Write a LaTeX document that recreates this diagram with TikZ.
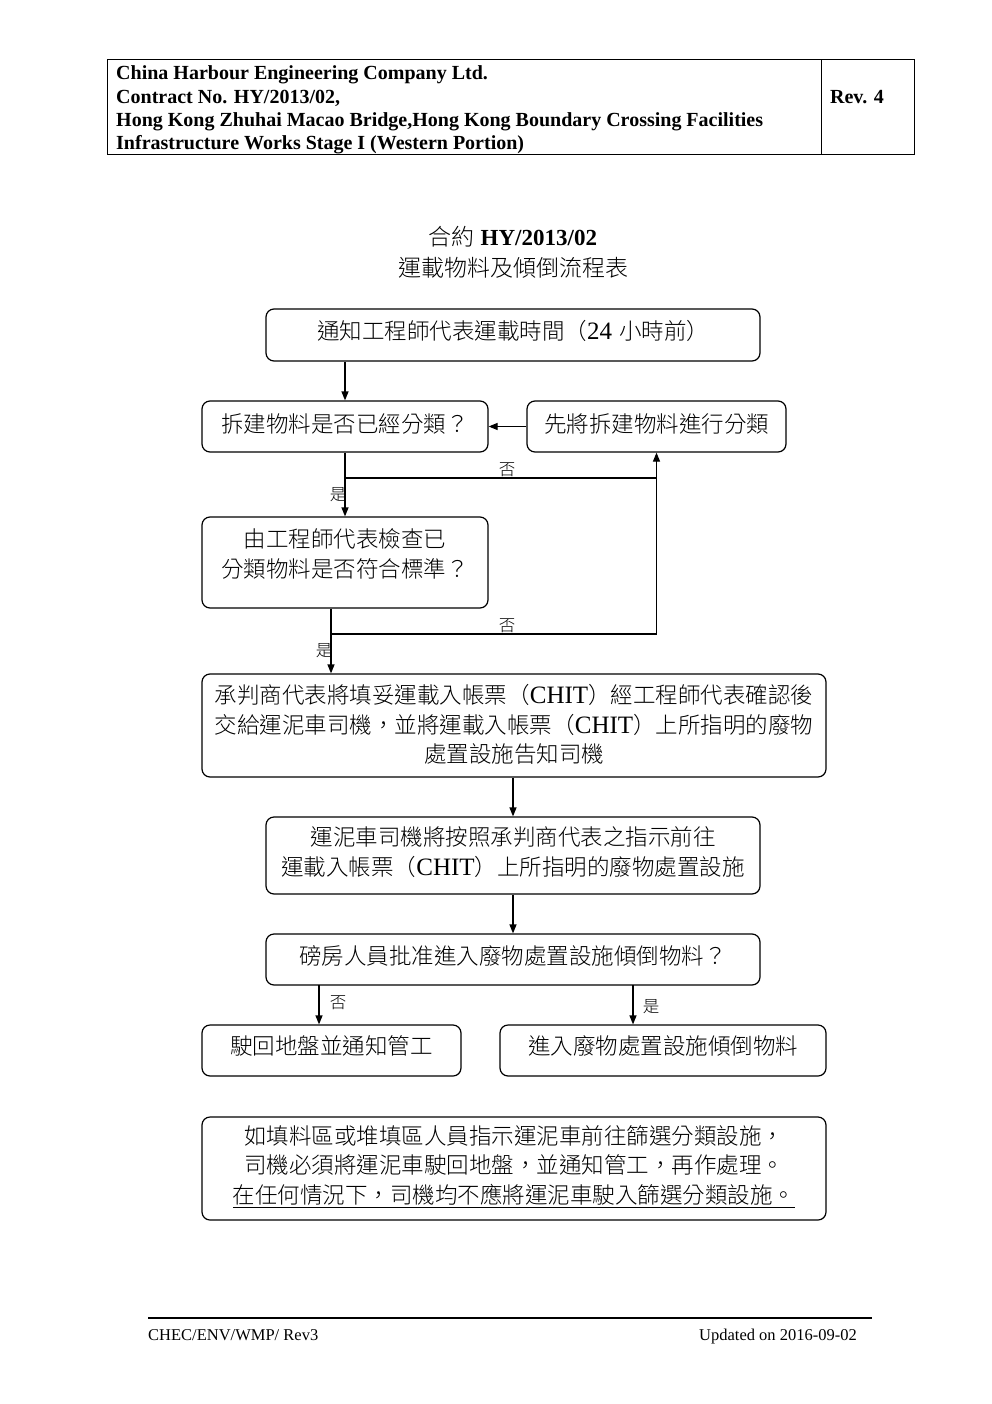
\documentclass[tikz,border=0pt]{standalone}
\usepackage{fontspec}
\setmainfont{Liberation Serif}
\newfontfamily\cjk{Noto Sans CJK TC}[UprightFont={* Light}]
\usetikzlibrary{arrows.meta}
\newcommand\lt[1]{{\rmfamily\fontsize{25}{29.5}\selectfont #1}}
\newcommand\ulthick[1]{\setbox0\hbox{#1}\leavevmode\rlap{\raisebox{-5pt}{\rule{\wd0}{1.4pt}}}\box0}
\begin{document}
\begin{tikzpicture}[x=1pt,y=-1pt,
  boxshape/.style={draw, line width=1.2pt, rounded corners=8pt, inner sep=0pt},
  txt/.style={inner sep=0pt, align=center, font=\cjk\fontsize{22.5}{29.5}\selectfont},
  lbl/.style={inner sep=0pt, font=\cjk\fontsize{16.5}{16.5}\selectfont},
  arr/.style={-{Triangle[length=9pt,width=7pt]}, line width=1.2pt},
  ln/.style={line width=1.2pt},
  hdr/.style={inner sep=0pt, anchor=base west, font=\bfseries\fontsize{20}{23}\selectfont}]
\useasboundingbox (0,0) rectangle (992,1404);
\fill[white] (0,0) rectangle (992,1404);
% header table
\draw[line width=1pt] (107,60) rectangle (914,155);
\draw[line width=1pt] (821,60) -- (821,155);
\node[hdr] (h1) at (116,80) {China Harbour Engineering Company Ltd.};
\node[hdr] (h2) at (116,103.5) {Contract No. HY/2013/02,};
\node[hdr] (h3) at (116,127) {Hong Kong Zhuhai Macao Bridge,Hong Kong Boundary Crossing Facilities};
\node[hdr] (h4) at (116,150) {Infrastructure Works Stage I (Western Portion)};
\node[hdr, anchor=base] (rev) at (857,104) {Rev. 4};
% title
\node[inner sep=0pt, font=\fontsize{23}{23}\selectfont] (t1) at (513,237) {{\cjk 合約} \textbf{HY/2013/02}};
\node[txt, font=\cjk\fontsize{23}{23}\selectfont] (t2) at (513,268) {運載物料及傾倒流程表};
% boxes
\node[boxshape, minimum width=494pt, minimum height=52pt] (n1) at (513,335) {};
\node[txt] (x1) at (513,331) {通知工程師代表運載時間（\lt{24}\hspace{7pt}小時前）};
\node[boxshape, minimum width=286pt, minimum height=51pt] (n2) at (345,426.5) {};
\node[txt] (x2) at (345,423.5) {拆建物料是否已經分類？};
\node[boxshape, minimum width=259pt, minimum height=51pt] (n3) at (656.5,426.5) {};
\node[txt] (x3) at (656.5,423.5) {先將拆建物料進行分類};
\node[boxshape, minimum width=286pt, minimum height=91pt] (n4) at (345,562.5) {};
\node[txt] (x4) at (345,554) {由工程師代表檢查已\\分類物料是否符合標準？};
\node[boxshape, minimum width=624pt, minimum height=103pt] (n5) at (514,725.5) {};
\node[txt] (x5) at (514,724.5) {承判商代表將填妥運載入帳票（\lt{CHIT}）經工程師代表確認後\\交給運泥車司機，並將運載入帳票（\lt{CHIT}）上所指明的廢物\\處置設施告知司機};
\node[boxshape, minimum width=494pt, minimum height=77pt] (n6) at (513,855.5) {};
\node[txt] (x6) at (513,852) {運泥車司機將按照承判商代表之指示前往\\運載入帳票（\lt{CHIT}）上所指明的廢物處置設施};
\node[boxshape, minimum width=494pt, minimum height=51pt] (n7) at (513,959.5) {};
\node[txt] (x7) at (513,955.5) {磅房人員批准進入廢物處置設施傾倒物料？};
\node[boxshape, minimum width=259pt, minimum height=51pt] (n8) at (331.5,1050.5) {};
\node[txt] (x8) at (331.5,1046) {駛回地盤並通知管工};
\node[boxshape, minimum width=326pt, minimum height=51pt] (n9) at (663,1050.5) {};
\node[txt] (x9) at (663,1046) {進入廢物處置設施傾倒物料};
\node[boxshape, minimum width=624pt, minimum height=103pt] (n10) at (514,1168.5) {};
\node[txt] (x10) at (514,1167) {如填料區或堆填區人員指示運泥車前往篩選分類設施，\\司機必須將運泥車駛回地盤，並通知管工，再作處理。\\\ulthick{在任何情況下，司機均不應將運泥車駛入篩選分類設施。}};
% connectors
\coordinate (j1) at (345,478);
\coordinate (j1r) at (656.5,478);
\coordinate (j2) at (331,634);
\coordinate (j2r) at (656.5,634);
\draw[arr] (n2.north |- n1.south) -- (n2.north);
\draw[arr] (n3.west) -- (n2.east);
\draw[arr] (n2.south) -- (n4.north);
\draw[ln] (j1) -- (j1r);
\draw[ln] (j2) -- (j2r);
\draw[arr] (j2r) -- (n3.south);
\draw[arr] (n4.south -| j2) -- (n5.north -| j2);
\draw[arr] (n6.north |- n5.south) -- (n6.north);
\draw[arr] (n6.south) -- (n7.north);
\coordinate (a1) at (319,985);
\coordinate (a2) at (633,985);
\draw[arr] (a1) -- (a1 |- n8.north);
\draw[arr] (a2) -- (a2 |- n9.north);
% labels
\node[lbl] (l1) at (507,470) {否};
\node[lbl] (l2) at (338,495) {是};
\node[lbl] (l3) at (507,626) {否};
\node[lbl] (l4) at (324,651) {是};
\node[lbl] (l5) at (338,1003) {否};
\node[lbl] (l6) at (651,1007) {是};
% footer
\draw[line width=1.2pt] (148,1318) -- (872,1318);
\node[inner sep=0pt, anchor=base west, font=\fontsize{16.5}{16.5}\selectfont] (f1) at (148,1340) {CHEC/ENV/WMP/ Rev3};
\node[inner sep=0pt, anchor=base east, font=\fontsize{16.5}{16.5}\selectfont] (f2) at (857,1340) {Updated on 2016-09-02};
\end{tikzpicture}
\end{document}
